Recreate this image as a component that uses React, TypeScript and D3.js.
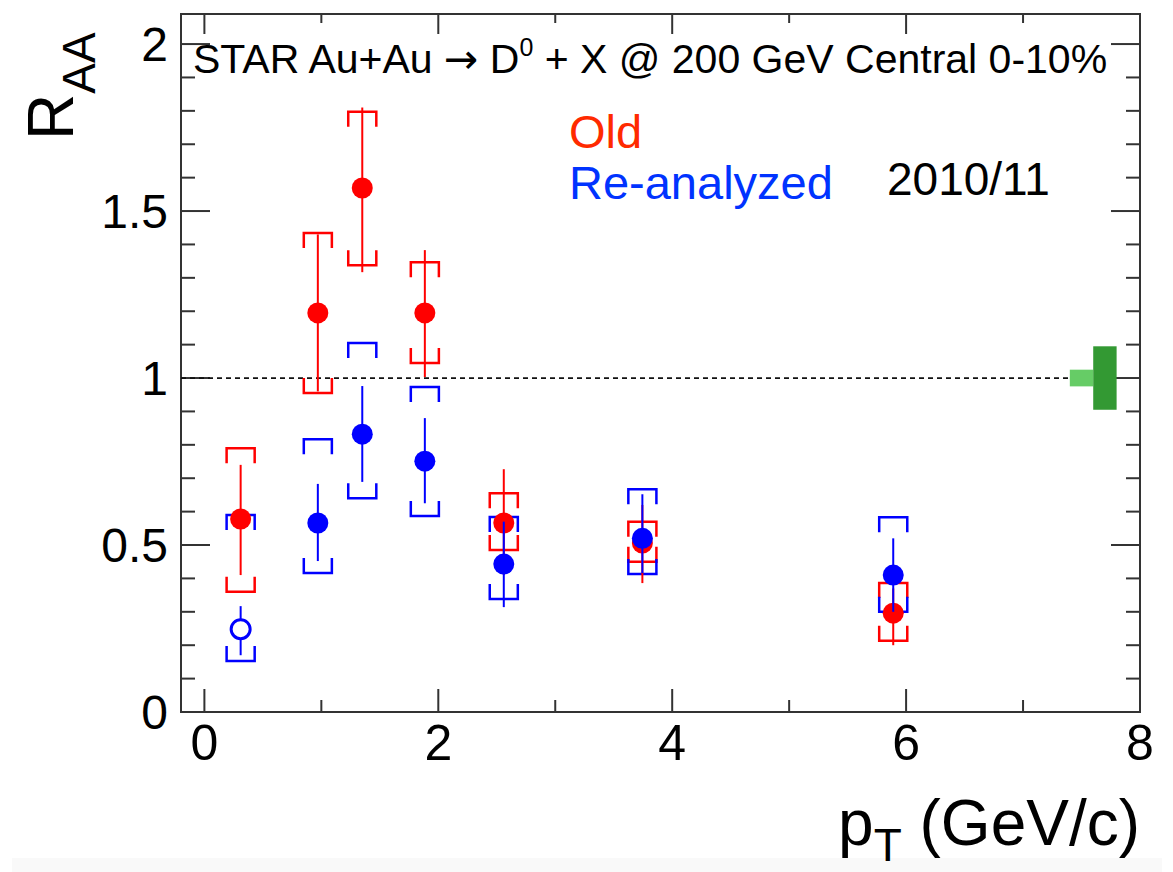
import { useEffect, useRef } from "react"
import * as d3 from "d3"

// pT bin centres (GeV/c)
const pt = [0.31, 0.97, 1.35, 1.885, 2.56, 3.745, 5.89]

// "Old" analysis
const raaOld = [0.578, 1.195, 1.569, 1.195, 0.566, 0.506, 0.296]
const statLoOld = [0.41, 0.96, 1.317, 1.003, 0.41, 0.386, 0.2]
const statHiOld = [0.74, 1.43, 1.81, 1.383, 0.727, 0.62, 0.37]
const sysLoOld = [0.36, 0.955, 1.338, 1.045, 0.485, 0.45, 0.213]
const sysHiOld = [0.79, 1.434, 1.797, 1.347, 0.655, 0.57, 0.386]

// "Re-analyzed"
const raaNew = [0.248, 0.566, 0.832, 0.751, 0.443, 0.52, 0.41]
const statLoNew = [0.17, 0.452, 0.689, 0.625, 0.314, 0.416, 0.3]
const statHiNew = [0.317, 0.683, 0.976, 0.88, 0.57, 0.652, 0.52]
const sysLoNew = [0.153, 0.416, 0.64, 0.587, 0.338, 0.413, 0.3]
const sysHiNew = [0.59, 0.817, 1.105, 0.973, 0.584, 0.667, 0.583]
const openNew = [true, false, false, false, false, false, false]

// normalisation uncertainties drawn at RAA = 1
const normBoxes = [
    { x0: 7.4, x1: 7.6, lo: 0.975, hi: 1.025, color: "#66cc66" },
    { x0: 7.6, x1: 7.8, lo: 0.905, hi: 1.095, color: "#339933" },
]

const xTicksMajor = [0, 2, 4, 6, 8]
const xTicksMinor = [1, 3, 5, 7]
const yTicksMajor = [0, 0.5, 1, 1.5, 2]
const yTickLabels = ["0", "0.5", "1", "1.5", "2"]

const FONT = "'Liberation Sans', Arial, Helvetica, sans-serif"

export default function App() {
    const ref = useRef<SVGSVGElement | null>(null)

    useEffect(() => {
        const svg = d3.select(ref.current)
        svg.selectAll("*").remove()

        const left = 181, right = 1140, top = 14, bottom = 712
        const x = d3.scaleLinear().domain([-0.2, 8.0]).range([left, right])
        const y = d3.scaleLinear().domain([0, 2.09]).range([bottom, top])

        svg.append("rect")
            .attr("x", 12).attr("y", 858).attr("width", 1150).attr("height", 14)
            .attr("fill", "#f9f9f9")

        // ticks
        const axisColor = "#333"
        const tickG = svg.append("g").attr("stroke", axisColor).attr("stroke-width", 2)
        const xTicks = [
            ...xTicksMajor.map(v => ({ v, len: 23 })),
            ...xTicksMinor.map(v => ({ v, len: 12 })),
        ]
        xTicks.forEach(t => {
            tickG.append("line")
                .attr("x1", x(t.v)).attr("x2", x(t.v))
                .attr("y1", bottom).attr("y2", bottom - t.len)
            tickG.append("line")
                .attr("x1", x(t.v)).attr("x2", x(t.v))
                .attr("y1", top).attr("y2", top + t.len - 3)
        })
        const yMinor = d3.range(0, 21).map(i => i / 10)
        yMinor.forEach(v => {
            const major = Math.abs(v * 2 - Math.round(v * 2)) < 1e-6
            const len = major ? 29 : 14
            tickG.append("line")
                .attr("x1", left).attr("x2", left + len)
                .attr("y1", y(v)).attr("y2", y(v))
            tickG.append("line")
                .attr("x1", right).attr("x2", right - len)
                .attr("y1", y(v)).attr("y2", y(v))
        })

        // frame
        svg.append("rect")
            .attr("x", left).attr("y", top)
            .attr("width", right - left).attr("height", bottom - top)
            .attr("fill", "none")
            .attr("stroke", axisColor)
            .attr("stroke-width", 2)

        // tick labels
        svg.append("g")
            .selectAll("text")
            .data(xTicksMajor)
            .join("text")
            .attr("x", d => x(d))
            .attr("y", 760)
            .attr("text-anchor", "middle")
            .attr("font-family", FONT)
            .attr("font-size", 50)
            .text(d => String(d))

        svg.append("g")
            .selectAll("text")
            .data(yTicksMajor)
            .join("text")
            .attr("x", 168)
            .attr("y", d => y(d) + 17)
            .attr("text-anchor", "end")
            .attr("font-family", FONT)
            .attr("font-size", 48)
            .text((d, i) => yTickLabels[i])

        // axis titles
        const yt = svg.append("text")
            .attr("transform", "translate(73,140) rotate(-90)")
            .attr("font-family", FONT)
            .attr("font-size", 64)
        yt.append("tspan").text("R")
        yt.append("tspan").attr("font-size", 46).attr("dy", 22).text("AA")

        const xt = svg.append("text")
            .attr("x", 1140)
            .attr("y", 845)
            .attr("text-anchor", "end")
            .attr("font-family", FONT)
            .attr("font-size", 64)
        xt.append("tspan").text("p")
        xt.append("tspan").attr("font-size", 46).attr("dy", 16).text("T")
        xt.append("tspan").attr("dy", -16).text(" (GeV/c)")

        // reference line at 1
        svg.append("line")
            .attr("x1", left).attr("x2", x(7.4))
            .attr("y1", y(1)).attr("y2", y(1))
            .attr("stroke", "#111")
            .attr("stroke-width", 1.8)
            .attr("stroke-dasharray", "5,4")

        svg.append("g")
            .selectAll("rect")
            .data(normBoxes)
            .join("rect")
            .attr("x", d => x(d.x0))
            .attr("width", d => x(d.x1) - x(d.x0))
            .attr("y", d => y(d.hi))
            .attr("height", d => y(d.lo) - y(d.hi))
            .attr("fill", d => d.color)

        // labels
        const title = svg.append("text")
            .attr("x", 193)
            .attr("y", 73)
            .attr("font-family", FONT)
            .attr("font-size", 41)
            .attr("fill", "#000")
        title.append("tspan").text("STAR Au+Au ")
        title.append("tspan").attr("font-family", "'DejaVu Sans', sans-serif").text("\u2192")
        title.append("tspan").text(" D")
        title.append("tspan").attr("font-size", 25).attr("dy", -17).text("0")
        title.append("tspan").attr("dy", 17).text(" + X @ 200 GeV Central 0-10%")

        svg.append("text")
            .attr("x", 569).attr("y", 148)
            .attr("font-family", FONT).attr("font-size", 47)
            .attr("fill", "#ff2a00")
            .text("Old")
        svg.append("text")
            .attr("x", 569).attr("y", 199)
            .attr("font-family", FONT).attr("font-size", 47)
            .attr("fill", "#0033ff")
            .text("Re-analyzed")
        svg.append("text")
            .attr("x", 887).attr("y", 195)
            .attr("font-family", FONT).attr("font-size", 46)
            .attr("fill", "#000")
            .text("2010/11")

        // systematic brackets
        const halfW = 0.12
        const legPx = 15
        const drawSys = (lo: number[], hi: number[], color: string) => {
            const g = svg.append("g")
                .attr("fill", "none")
                .attr("stroke", color)
                .attr("stroke-width", 2.5)
            pt.forEach((p, i) => {
                const xl = x(p - halfW), xr = x(p + halfW)
                const yh = y(hi[i]), yl = y(lo[i])
                g.append("path").attr("d", `M${xl},${yh + legPx}V${yh}H${xr}V${yh + legPx}`)
                g.append("path").attr("d", `M${xl},${yl - legPx}V${yl}H${xr}V${yl - legPx}`)
            })
        }
        drawSys(sysLoOld, sysHiOld, "#ff0000")
        drawSys(sysLoNew, sysHiNew, "#0000ff")

        // stat bars + markers
        const drawPoints = (val: number[], lo: number[], hi: number[], color: string, open?: boolean[]) => {
            const g = svg.append("g")
            pt.forEach((p, i) => {
                g.append("line")
                    .attr("x1", x(p)).attr("x2", x(p))
                    .attr("y1", y(lo[i])).attr("y2", y(hi[i]))
                    .attr("stroke", color)
                    .attr("stroke-width", 2)
                const isOpen = open ? open[i] : false
                g.append("circle")
                    .attr("cx", x(p))
                    .attr("cy", y(val[i]))
                    .attr("r", isOpen ? 9.5 : 10.5)
                    .attr("fill", isOpen ? "#fff" : color)
                    .attr("stroke", isOpen ? color : "none")
                    .attr("stroke-width", 3)
            })
        }
        drawPoints(raaOld, statLoOld, statHiOld, "#ff0000")
        drawPoints(raaNew, statLoNew, statHiNew, "#0000ff", openNew)
    }, [])

    return (
        <svg
            ref={ref}
            width={1173}
            height={872}
            style={{ position: "absolute", left: 0, top: 0, background: "#fff" }}
        />
    )
}
